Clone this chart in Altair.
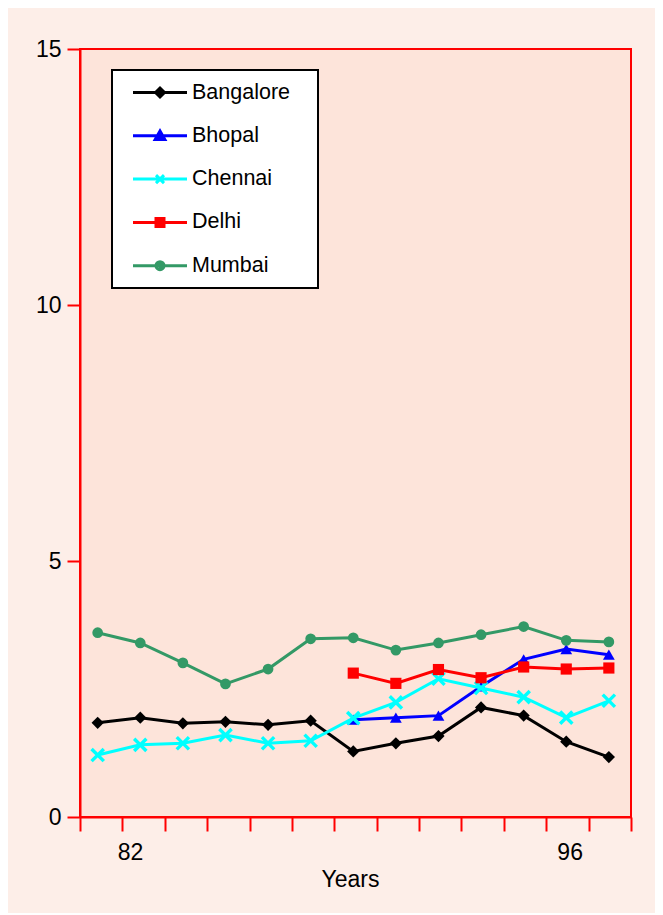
import altair as alt
import pandas as pd

# ---- data ----
cities = ["Bangalore", "Bhopal", "Chennai", "Delhi", "Mumbai"]
colors = ["#000000", "#0000ff", "#00ffff", "#ff0000", "#339966"]

bangalore = [1.84, 1.94, 1.83, 1.86, 1.80, 1.88, 1.28, 1.44, 1.58, 2.14, 1.98, 1.47, 1.17]
bhopal = [None, None, None, None, None, None, 1.90, 1.94, 1.98, 2.55, 3.08, 3.28, 3.17]
chennai = [1.21, 1.41, 1.44, 1.60, 1.44, 1.49, 1.93, 2.24, 2.70, 2.52, 2.34, 1.94, 2.27]
delhi = [None, None, None, None, None, None, 2.81, 2.61, 2.88, 2.72, 2.93, 2.89, 2.91]
mumbai = [3.60, 3.40, 3.01, 2.60, 2.89, 3.48, 3.50, 3.26, 3.40, 3.56, 3.72, 3.45, 3.42]
series = [bangalore, bhopal, chennai, delhi, mumbai]

x_label_text = ["82", "96"]
x_label_pos = [0.76, 11.08]
y_ticks = [0, 5, 10, 15]

rows = []
for city, vals in zip(cities, series):
    for i, v in enumerate(vals):
        if v is not None:
            rows.append({"idx": i, "city": city, "value": v})
df = pd.DataFrame(rows)

# ---- styling ----
FONT = "Liberation Sans"
x_dom = [-0.415, 12.52]
x_ticks = [round(x_dom[0] + k * (x_dom[1] - x_dom[0]) / 13, 4) for k in range(14)]

label_test = " || ".join(f"datum.value == {p}" for p in x_label_pos)
label_expr = "".join(f"datum.value == {p} ? '{t}' : " for p, t in zip(x_label_pos, x_label_text)) + "''"

x_enc = alt.X(
    "idx:Q",
    scale=alt.Scale(domain=x_dom, nice=False, zero=False),
    axis=alt.Axis(
        values=x_ticks + x_label_pos,
        labelExpr=label_expr,
        tickOpacity={"condition": {"test": label_test, "value": 0}, "value": 1},
        labelOverlap=False,
        labelFlush=False,
        grid=False,
        domainColor="#ff0000",
        domainWidth=2,
        tickColor="#ff0000",
        tickWidth=2,
        tickSize=14,
        labelFontSize=23,
        labelFont=FONT,
        labelColor="black",
        labelPadding=10,
        title="Years",
        titleFont=FONT,
        titleFontSize=23,
        titleFontWeight="normal",
        titleColor="black",
        titlePadding=4,
        titleX=270,
        titleAlign="center",
    ),
)
y_enc = alt.Y(
    "value:Q",
    scale=alt.Scale(domain=[0, 15], nice=False),
    axis=alt.Axis(
        values=y_ticks,
        grid=False,
        domainColor="#ff0000",
        domainWidth=2,
        tickColor="#ff0000",
        tickWidth=2,
        tickSize=13,
        labelFontSize=23,
        labelFont=FONT,
        labelColor="black",
        labelPadding=6,
        title=None,
    ),
)

marker_shapes = ["diamond", "triangle-up", "M-1,-1L1,1M-1,1L1,-1", "square", "circle"]
marker_sizes = [150, 140, 150, 125, 115]
marker_filled = [True, True, False, True, True]

layers = []
for city, col, shp, sz, fl in zip(cities, colors, marker_shapes, marker_sizes, marker_filled):
    pt = alt.OverlayMarkDef(shape=shp, size=sz, filled=fl, color=col, opacity=1,
                            strokeWidth=3.4 if not fl else 0)
    layers.append(
        alt.Chart(df)
        .transform_filter(alt.datum.city == city)
        .mark_line(color=col, strokeWidth=3, point=pt)
        .encode(x=x_enc, y=y_enc)
    )

# legend symbols: line + marker, drawn as strokes (unit = 10 px)
cx = 2.55
def diamond(r):
    return f"M{cx-r},0L{cx},{-r}L{cx+r},0L{cx},{r}Z"
def tri(k):
    return f"M{cx},{-0.6*k}L{cx+0.6*k},{0.45*k}L{cx-0.6*k},{0.45*k}Z"
def sq(h):
    return f"M{cx-h},{-h}H{cx+h}V{h}H{cx-h}Z"
def circ(r):
    return f"M{cx-r},0A{r},{r} 0 1,0 {cx+r},0A{r},{r} 0 1,0 {cx-r},0Z"
line_path = f"M{cx-2.7},0H{cx+2.7}"
legend_paths = [
    line_path + diamond(0.45) + diamond(0.2),
    line_path + tri(0.8) + tri(0.35),
    line_path + f"M{cx-0.4},-0.4L{cx+0.4},0.4M{cx-0.4},0.4L{cx+0.4},-0.4",
    line_path + sq(0.4) + sq(0.12),
    line_path + circ(0.4) + circ(0.12),
]

leg = alt.Legend(
    title=None,
    orient="none",
    legendX=32,
    legendY=21,
    fillColor="white",
    strokeColor="black",
    padding=11,
    symbolSize=400,
    symbolStrokeWidth=3,
    symbolOpacity=1,
    rowPadding=21.3,
    labelOffset=46,
    labelFont=FONT,
    labelFontSize=21.5,
    labelColor="black",
    labelExpr="datum.label + '\u00a0\u00a0\u2009\u200b'",
)

legend_layer = alt.Chart(df).mark_point(opacity=0, filled=False, strokeWidth=3, size=400).encode(
    x=x_enc,
    y=y_enc,
    color=alt.Color("city:N", scale=alt.Scale(domain=cities, range=colors), legend=leg),
    shape=alt.Shape("city:N", scale=alt.Scale(domain=cities, range=legend_paths), legend=leg),
)

chart = (
    alt.layer(*layers, legend_layer)
    .properties(
        width=551,
        height=768,
        autosize=alt.AutoSizeParams(type="none"),
        padding={"left": 72, "top": 41, "right": 24, "bottom": 96},
        background="#fdeee8",
    )
    .configure_view(stroke="#ff0000", strokeWidth=2, fill="#fde4da")
    .configure_legend(strokeWidth=2)
)

chart.save("out.html", embed_options={"renderer": "svg", "actions": False})
